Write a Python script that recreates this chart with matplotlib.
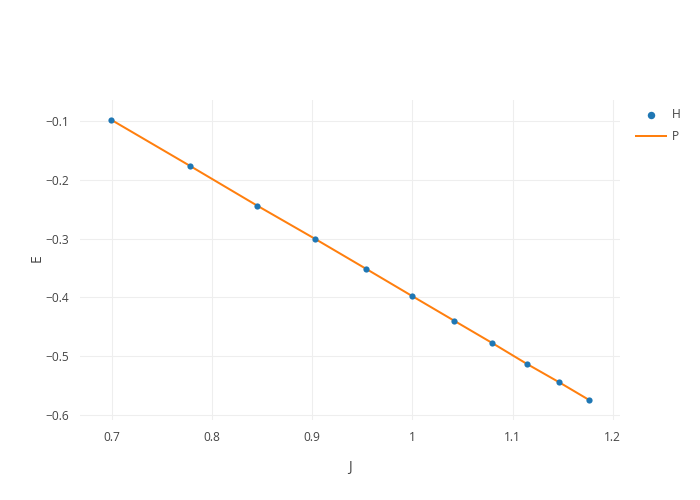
import matplotlib
matplotlib.use("Agg")
import matplotlib.pyplot as plt

# data
j_vals = [0.699, 0.778, 0.845, 0.903, 0.954, 1.0, 1.0416, 1.0797, 1.114, 1.1466, 1.1765]
e_vals = [-0.0978, -0.1765, -0.244, -0.3007, -0.3517, -0.398, -0.4396, -0.4776, -0.5128, -0.5444, -0.5745]

plt.rcParams['font.family'] = ['Open Sans', 'DejaVu Sans']

fig = plt.figure(figsize=(7, 5), dpi=100)
ax = fig.add_axes([80/700, 80/500, 540/700, 320/500])

# plotly sizes are in px, 1px = 0.72pt at 100 dpi
ax.plot(j_vals, e_vals, color='#ff7f0e', lw=1.44, label='P', zorder=2)
ax.scatter(j_vals, e_vals, s=20, color='#1f77b4', label='H', zorder=3, linewidths=0)

ax.set_xlim(0.668, 1.2073)
ax.set_ylim(-0.6085, -0.0643)
ax.set_xticks([0.7, 0.8, 0.9, 1.0, 1.1, 1.2])
ax.set_xticklabels(['0.7', '0.8', '0.9', '1', '1.1', '1.2'])
ax.set_yticks([-0.1, -0.2, -0.3, -0.4, -0.5, -0.6])
ax.set_yticklabels(['\u22120.1', '\u22120.2', '\u22120.3', '\u22120.4', '\u22120.5', '\u22120.6'])

ax.grid(color='#eeeeee', lw=0.8)
ax.set_axisbelow(True)
for s in ax.spines.values():
    s.set_visible(False)
ax.tick_params(length=0, labelsize=8.64, colors='#444444', pad=8)

fig.text(350/700, 1 - 467/500, 'J', ha='center', va='center', fontsize=10, color='#444444')
fig.text(37/700, 1 - 258/500, 'E', ha='center', va='center', fontsize=10, color='#444444', rotation=90)

handles, labels = ax.get_legend_handles_labels()
order = [1, 0]
ax.legend([handles[i] for i in order], [labels[i] for i in order],
          loc='upper left', bbox_to_anchor=(636/700, 1 - 108/500), bbox_transform=fig.transFigure,
          frameon=False, fontsize=8.64, labelcolor='#444444', handlelength=2.5, handletextpad=0.45,
          labelspacing=0.75, borderaxespad=0, borderpad=0, markerscale=1.2)

fig.savefig('out.png', dpi=100)
